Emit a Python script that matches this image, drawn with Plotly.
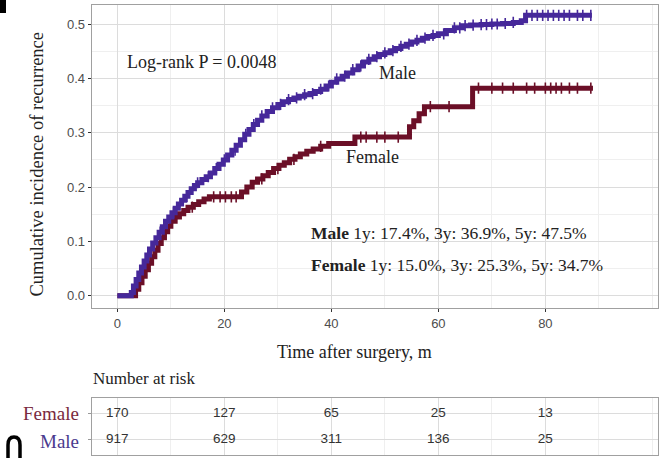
import numpy as np
import plotly.graph_objects as go

# ---------------- data ----------------
male_t = [0, 2.6, 3.0, 3.5, 4.0, 4.5, 5.0, 5.5, 6.0, 6.6, 7.2, 7.8, 8.4, 9.0, 9.6, 10.2, 10.8, 11.4,
          12.0, 12.6, 13.2, 13.8, 14.4, 15.0, 15.8, 16.6, 17.4, 18.2, 19.0, 19.8, 20.6, 21.4, 22.2,
          23.0, 23.8, 24.6, 25.4, 26.2, 27.0, 28.0, 29.0, 30.0, 31.0, 32.0, 33.0, 34.0, 35.0, 36.0,
          37.0, 38.0, 39.0, 40.0, 41.0, 42.0, 43.0, 44.0, 45.0, 46.0, 47.0, 48.0, 49.0, 50.0, 51.0,
          52.0, 53.0, 54.0, 55.0, 56.0, 57.0, 58.0, 59.0, 60.0, 61.5, 63.0, 64.5, 66.0, 68.0, 70.0,
          72.0, 74.0, 75.5, 76.3, 88.7]
male_v = [0, 0.006, 0.018, 0.030, 0.042, 0.053, 0.064, 0.075, 0.086, 0.097, 0.107, 0.117, 0.127,
          0.137, 0.145, 0.153, 0.161, 0.169, 0.176, 0.183, 0.190, 0.197, 0.203, 0.208, 0.214, 0.219,
          0.226, 0.234, 0.242, 0.250, 0.259, 0.268, 0.277, 0.287, 0.297, 0.306, 0.315, 0.323, 0.331,
          0.339, 0.346, 0.352, 0.357, 0.361, 0.364, 0.367, 0.370, 0.372, 0.376, 0.380, 0.386, 0.393,
          0.399, 0.404, 0.410, 0.416, 0.423, 0.430, 0.435, 0.440, 0.444, 0.447, 0.451, 0.455, 0.459,
          0.463, 0.467, 0.470, 0.474, 0.477, 0.479, 0.482, 0.488, 0.493, 0.497, 0.498, 0.499, 0.500,
          0.501, 0.503, 0.506, 0.516, 0.516]

female_t = [0, 3.4, 4.0, 4.6, 5.2, 5.8, 6.4, 7.0, 7.6, 8.2, 8.8, 9.4, 10.0, 10.8, 11.6, 12.4, 13.2,
            14.2, 15.2, 16.2, 17.2, 23.2, 24.2, 25.2, 26.2, 27.2, 28.2, 29.2, 30.2, 31.2, 32.2, 33.2,
            34.2, 35.4, 36.6, 38.0, 39.5, 44.4, 54.6, 55.4, 56.4, 57.4, 66.4, 88.9]
female_v = [0, 0.012, 0.024, 0.036, 0.048, 0.060, 0.072, 0.084, 0.096, 0.107, 0.118, 0.128, 0.137,
            0.145, 0.151, 0.157, 0.163, 0.168, 0.173, 0.178, 0.182, 0.191, 0.200, 0.209, 0.215,
            0.221, 0.227, 0.234, 0.240, 0.245, 0.251, 0.256, 0.261, 0.266, 0.270, 0.275, 0.280,
            0.292, 0.311, 0.322, 0.335, 0.348, 0.382, 0.382]

male_censor = [8, 10.5, 13, 15, 17, 18.5, 20, 22, 24, 25.5, 27, 29, 30.5, 32, 33.5, 35, 36.5, 38,
               39.5, 41, 42.5, 44, 45.5, 47, 48.5, 50, 51.5, 53, 54.5, 56, 57.5, 59, 61, 63, 64, 65,
               66.5, 68, 69, 70, 71, 72.5, 74, 76.5, 77.5, 78.5, 79.5, 80.5, 81.5, 82.5, 83.5, 84.5,
               86, 87, 88.5]
female_censor = [9, 14, 18, 19.2, 20.2, 21.3, 22.2, 27, 30, 33, 38, 45.5, 46.5, 48.5, 50, 52.5,
                 58.5, 62, 67.5, 70, 72, 74, 76.5, 78, 80, 81, 82, 83, 84.5, 86, 88.5]

risk_times = [0, 20, 40, 60, 80]
risk_female = [170, 127, 65, 25, 13]
risk_male = [917, 629, 311, 136, 25]

x_ticks = [0, 20, 40, 60, 80]
y_ticks = [0.0, 0.1, 0.2, 0.3, 0.4, 0.5]
y_ticklabels = ["0.0", "0.1", "0.2", "0.3", "0.4", "0.5"]

MALE_COL = "#46289A"
FEMALE_COL = "#6B0F27"
SERIF = "Liberation Serif, Times New Roman, serif"
SANS = "Liberation Sans, Arial, sans-serif"

W, H = 666, 458
def px_x(p): return p / W
def px_y(p): return 1 - p / H

def step_lookup(ts, vs, t):
    i = np.searchsorted(np.array(ts), t, side="right") - 1
    return np.array(vs)[i]

fig = go.Figure()

for ts, vs, col, cens, name in [(female_t, female_v, FEMALE_COL, female_censor, "Female"),
                                 (male_t, male_v, MALE_COL, male_censor, "Male")]:
    fig.add_trace(go.Scatter(x=ts, y=vs, mode="lines", line=dict(shape="hv", color=col, width=5),
                             name=name, showlegend=False, xaxis="x", yaxis="y"))
    cy = [step_lookup(ts, vs, t) for t in cens]
    fig.add_trace(go.Scatter(x=cens, y=cy, mode="markers",
                             marker=dict(symbol="line-ns", size=8, line=dict(color=col, width=1.6)),
                             showlegend=False, xaxis="x", yaxis="y"))

# risk table
fig.add_trace(go.Scatter(x=risk_times, y=[2] * len(risk_times), mode="text",
                         text=[str(v) for v in risk_female],
                         textfont=dict(family=SANS, size=13.5, color="#333333"),
                         showlegend=False, xaxis="x2", yaxis="y2"))
fig.add_trace(go.Scatter(x=risk_times, y=[1] * len(risk_times), mode="text",
                         text=[str(v) for v in risk_male],
                         textfont=dict(family=SANS, size=13.5, color="#333333"),
                         showlegend=False, xaxis="x2", yaxis="y2"))

xr = [-4.8, 101.0]
grid_major = "#DCDCDC"
grid_minor = "#EFEFEF"
border = "#A0A0A0"

common_x = dict(range=xr, showgrid=True, gridcolor=grid_major, gridwidth=1,
                minor=dict(showgrid=True, gridcolor=grid_minor, dtick=10, tick0=0),
                tickvals=x_ticks, zeroline=False, showline=True, mirror=True,
                linecolor=border, linewidth=1)

fig.update_layout(
    width=W, height=H, margin=dict(l=0, r=0, t=0, b=0),
    paper_bgcolor="white", plot_bgcolor="white",
    xaxis=dict(**common_x, domain=[px_x(91.7), px_x(657.7)], anchor="y",
               ticks="outside", ticklen=3, tickcolor="#333333",
               tickfont=dict(family=SANS, size=13, color="#4D4D4D")),
    yaxis=dict(range=[-0.023, 0.535], domain=[px_y(308.3), px_y(5)], anchor="x",
               tickvals=y_ticks, ticktext=y_ticklabels, showgrid=True, gridcolor=grid_major,
               minor=dict(showgrid=True, gridcolor=grid_minor, dtick=0.05, tick0=0),
               zeroline=False, showline=True, mirror=True, linecolor=border, linewidth=1,
               ticks="outside", ticklen=3, tickcolor="#333333",
               tickfont=dict(family=SANS, size=13, color="#4D4D4D")),
    xaxis2=dict(**common_x, domain=[px_x(91.7), px_x(657.7)], anchor="y2",
                showticklabels=False, ticks=""),
    yaxis2=dict(range=[0.4, 2.6], domain=[px_y(455), px_y(398)], anchor="x2",
                tickvals=[1, 2], showticklabels=False, showgrid=True, gridcolor=grid_major,
                zeroline=False, showline=True, mirror=True, linecolor=border, linewidth=1,
                ticks="outside", ticklen=3, tickcolor="#999999"),
)

ann = []
def add_text(text, x, y, size, xanchor="center", color="#222222", family=SERIF, textangle=0,
             xref="paper", yref="paper"):
    ann.append(dict(text=text, x=x, y=y, xref=xref, yref=yref, showarrow=False,
                    xanchor=xanchor, yanchor="middle", textangle=textangle,
                    font=dict(family=family, size=size, color=color)))

add_text("Log-rank P = 0.0048", 1.4, 0.43, 18, xanchor="left", xref="x", yref="y")
add_text("Male", 52.3, 0.41, 18, xref="x", yref="y")
add_text("Female", 47.6, 0.255, 18, xref="x", yref="y")
add_text("<b>Male</b> 1y: 17.4%, 3y: 36.9%, 5y: 47.5%", 35.9, 0.1155, 17.5, xanchor="left",
         xref="x", yref="y")
add_text("<b>Female</b> 1y: 15.0%, 3y: 25.3%, 5y: 34.7%", 35.9, 0.0565, 17.5, xanchor="left",
         xref="x", yref="y")
add_text("Cumulative incidence of recurrence", px_x(37), px_y(164.5), 18.5, textangle=-90)
add_text("Time after surgery, m", px_x(354.6), px_y(352), 18)
add_text("Number at risk", px_x(91), px_y(378), 17, xanchor="left")
add_text("Female", px_x(81), px_y(413.5), 19, xanchor="right", color="#7A2A40")
add_text("Male", px_x(81), px_y(441), 19, xanchor="right", color="#4A3A8E")
fig.update_layout(annotations=ann)

# cropped panel-letter fragments at the image edges
fig.add_shape(type="rect", xref="paper", yref="paper", x0=0, x1=px_x(6), y0=px_y(13), y1=1,
              fillcolor="black", line=dict(width=0))
fig.add_shape(type="path", xref="paper", yref="paper",
              path=f"M {px_x(8)} 0 L {px_x(8)} {px_y(445)} Q {px_x(8)} {px_y(437)} {px_x(14)} {px_y(437)} "
                   f"Q {px_x(20)} {px_y(437)} {px_x(20)} {px_y(445)} L {px_x(20)} 0",
              line=dict(color="black", width=3.5))

fig.write_html("out.html")
